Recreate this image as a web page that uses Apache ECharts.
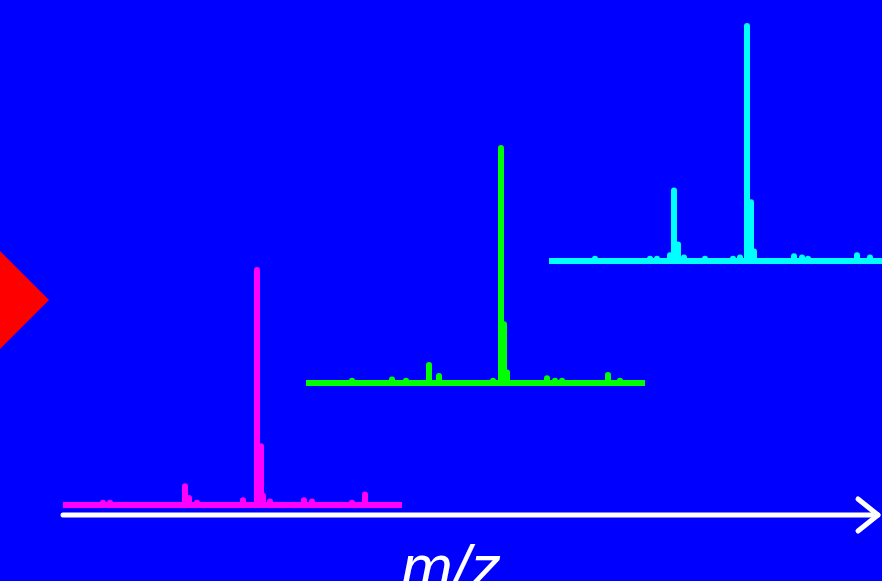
<!DOCTYPE html>
<html>
<head>
<meta charset="utf-8">
<script src="https://cdn.jsdelivr.net/npm/echarts@6/dist/echarts.min.js"></script>
<style>
  html, body { margin: 0; padding: 0; background: #0000ff; }
  #main { width: 882px; height: 581px; }
</style>
</head>
<body>
<div id="main"></div>
<script>
// 三个质谱，m/z 位置（相对单位）和相对强度（%）
const mzRange = [0, 339]

const magentaMz = [40, 47, 122, 126, 134, 180, 194, 198, 200, 207, 241, 249, 289, 302]
const magentaInt = [1, 1, 8, 3, 1, 2, 100, 25, 4, 1.5, 2, 1.5, 1, 4.5]

const greenMz = [46, 86, 100, 123, 133, 187, 195, 198, 201, 241, 249, 256, 302, 314]
const greenInt = [1, 1.5, 1, 7.7, 3, 1, 100, 25, 4.5, 2, 1, 1, 3.4, 1]

const cyanMz = [46, 101, 108, 121, 125, 129, 135, 156, 184, 191, 198, 202, 205, 245, 253, 259, 308, 321]
const cyanInt = [1, 1, 1, 2.5, 30, 7, 1.5, 1, 1, 1.5, 100, 25, 4, 2, 1.5, 1, 2.5, 1.5]

// 把峰转成折线点：基线 -> 峰顶 -> 基线
function stick(mz, inten) {
  let pts = [[mzRange[0], 0]]
  for (let i = 0; i < mz.length; i++) {
    pts.push([mz[i], 0], [mz[i], inten[i]], [mz[i], 0])
  }
  pts.push([mzRange[1], 0])
  return pts
}

// 第三个谱超出画布右边，网格只画到 882，所以宽度和 max 一起缩
const spectra = [
  { mz: magentaMz, inten: magentaInt, color: '#ff00ff', left: 63, top: 270, width: 339 },
  { mz: greenMz, inten: greenInt, color: '#00ff00', left: 306, top: 148, width: 339 },
  { mz: cyanMz, inten: cyanInt, color: '#00ffff', left: 549, top: 26, width: 333 }
]

var myChart = echarts.init(document.getElementById('main'))

var option = {
  backgroundColor: '#0000ff',
  animation: false,
  grid: spectra.map(s => ({ left: s.left, top: s.top, width: s.width, height: 235 })),
  xAxis: spectra.map((s, i) => ({
    type: 'value', gridIndex: i, min: mzRange[0], max: mzRange[0] + s.width, show: false
  })),
  yAxis: spectra.map((s, i) => ({
    type: 'value', gridIndex: i, min: 0, max: 100, show: false
  })),
  series: spectra.map((s, i) => ({
    type: 'line',
    xAxisIndex: i,
    yAxisIndex: i,
    data: stick(s.mz, s.inten),
    symbol: 'none',
    clip: false,
    lineStyle: { color: s.color, width: 6, cap: 'butt', join: 'round' }
  })),
  graphic: [
    {
      type: 'polygon',
      shape: { points: [[-49, 300], [0, 251], [49, 300], [0, 349]] },
      style: { fill: '#ff0000' }
    },
    {
      type: 'polyline',
      shape: { points: [[63, 515], [878, 515]] },
      style: { stroke: '#ffffff', lineWidth: 5, lineCap: 'round' }
    },
    {
      type: 'polyline',
      shape: { points: [[858, 499], [878, 515], [858, 531]] },
      style: { stroke: '#ffffff', fill: null, lineWidth: 5, lineCap: 'round', lineJoin: 'round' }
    },
    {
      type: 'text',
      x: 451,
      y: 602,
      style: {
        text: 'm/z',
        fill: '#ffffff',
        font: 'italic 62px "Liberation Sans", Arial, sans-serif',
        textAlign: 'center',
        textVerticalAlign: 'bottom'
      }
    }
  ]
}

myChart.setOption(option)
</script>
</body>
</html>
